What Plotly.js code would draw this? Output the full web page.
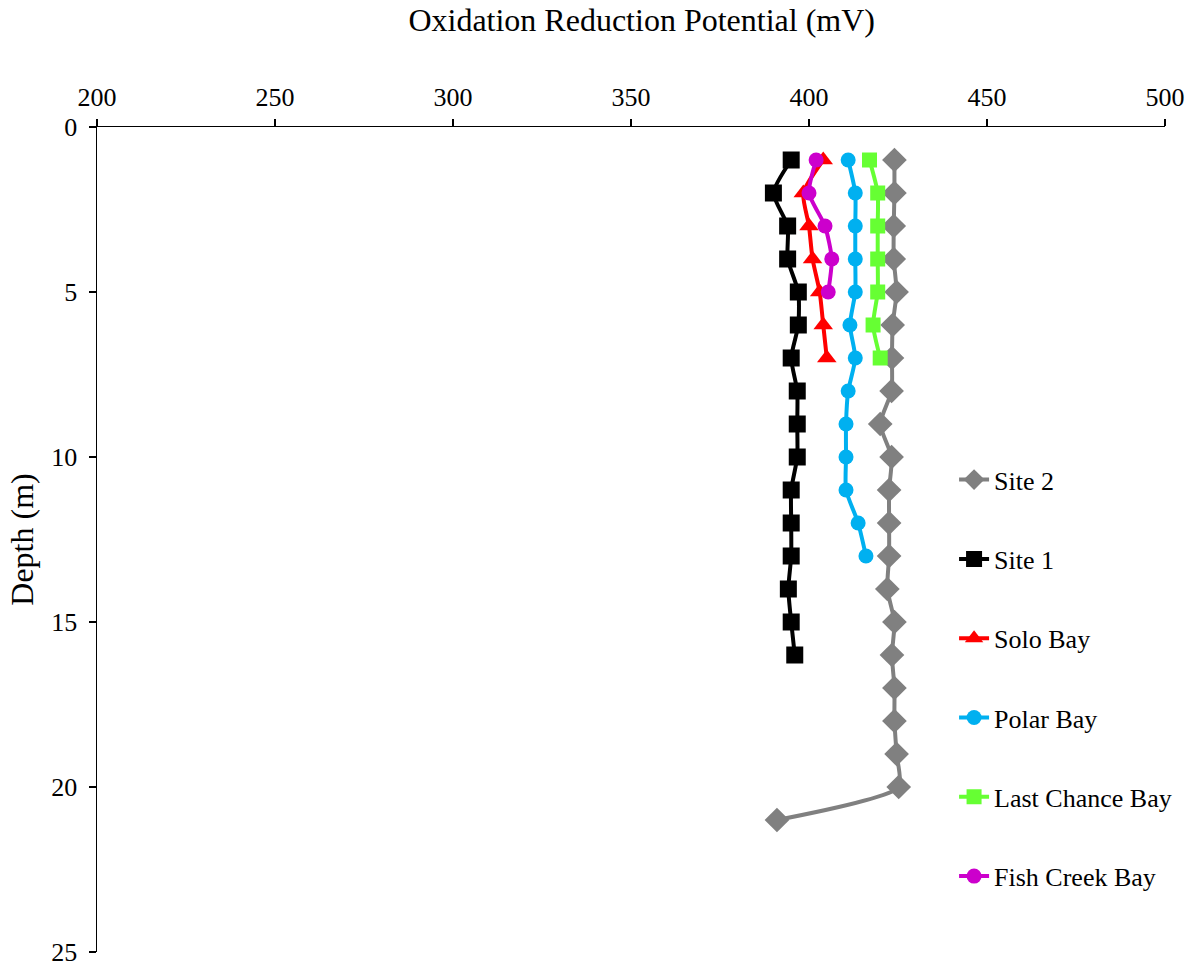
<!DOCTYPE html>
<html>
<head>
<meta charset="utf-8">
<script src="https://cdn.plot.ly/plotly-3.0.1.min.js"></script>
<style>html,body{margin:0;padding:0;background:#fff}</style>
</head>
<body>
<div id="chart" style="width:1197px;height:968px"></div>
<script>
const site2Depth = [1,2,3,4,5,6,7,8,9,10,11,12,13,14,15,16,17,18,19,20,21];
const site2ORP   = [424,424,423.8,423.8,424.6,423.5,423.3,423.2,420,423.2,422.5,422.5,422.5,422,424,423.3,424,424,424.6,425.2,391];
const site1Depth = [1,2,3,4,5,6,7,8,9,10,11,12,13,14,15,16];
const site1ORP   = [395,390,394,394,397,397,395,396.7,396.7,396.7,395,395,395,394.2,395,396];
const soloDepth  = [1,2,3,4,5,6,7];
const soloORP    = [404,398.4,400,401,403,404,405];
const polarDepth = [1,2,3,4,5,6,7,8,9,10,11,12,13];
const polarORP   = [411,413,413,413,413,411.5,413,411,410.4,410.4,410.4,413.8,416];
const lastDepth  = [1,2,3,4,5,6,7];
const lastORP    = [417,419.3,419.3,419.3,419.3,418,420];
const fishDepth  = [1,2,3,4,5];
const fishORP    = [402,400,404.5,406.4,405.4];

const font = "Liberation Serif, Times New Roman, serif";
function tr(name, x, y, color, symbol, size, g) {
  return {type:'scatter', mode:'lines+markers', name:name, x:x, y:y, legendgroup:g,
    line:{color:color, width:4, shape:'spline', smoothing:0.6},
    marker:{color:color, symbol:symbol, size:size}};
}
const data = [
  tr('Site 2', site2ORP, site2Depth, '#808080', 'diamond', 19, 'a'),
  tr('Site 1', site1ORP, site1Depth, '#000000', 'square', 17, 'b'),
  tr('Solo Bay', soloORP, soloDepth, '#FF0000', 'triangle-up', 17, 'c'),
  tr('Polar Bay', polarORP, polarDepth, '#00B0F0', 'circle', 15, 'd'),
  tr('Last Chance Bay', lastORP, lastDepth, '#66FF33', 'square', 15, 'e'),
  tr('Fish Creek Bay', fishORP, fishDepth, '#CC00CC', 'circle', 15, 'f')
];
const layout = {
  width:1197, height:968,
  margin:{l:97, r:32, t:127, b:16},
  paper_bgcolor:'#fff', plot_bgcolor:'#fff',
  font:{family:font, size:26, color:'#000'},
  title:{text:'Oxidation Reduction Potential (mV)', font:{family:font, size:32, color:'#000'},
    xref:'paper', x:0.51, xanchor:'center', yref:'container', y:1-20/968, yanchor:'middle'},
  xaxis:{side:'top', range:[200,500], dtick:50, tick0:200, showgrid:false, zeroline:false,
    showline:true, linecolor:'#000', linewidth:1.5, ticks:'outside', ticklen:7, tickwidth:1.5, tickcolor:'#000',
    ticklabelstandoff:2, tickfont:{family:font, size:26, color:'#000'}},
  yaxis:{range:[25,0], dtick:5, tick0:0, showgrid:false, zeroline:false,
    showline:true, linecolor:'#000', linewidth:1.5, ticks:'outside', ticklen:7, tickwidth:1.5, tickcolor:'#000',
    ticklabelstandoff:6, tickfont:{family:font, size:26, color:'#000'},
    title:{text:'Depth (m)', font:{family:font, size:32, color:'#000'}, standoff:8}},
  showlegend:true,
  legend:{x:0.8025, xanchor:'left', y:0.601, yanchor:'top', bgcolor:'rgba(0,0,0,0)',
    font:{family:font, size:26, color:'#000'}, tracegroupgap:42.5, itemwidth:30}
};
Plotly.newPlot('chart', data, layout, {displayModeBar:false, staticPlot:true});
</script>
</body>
</html>
